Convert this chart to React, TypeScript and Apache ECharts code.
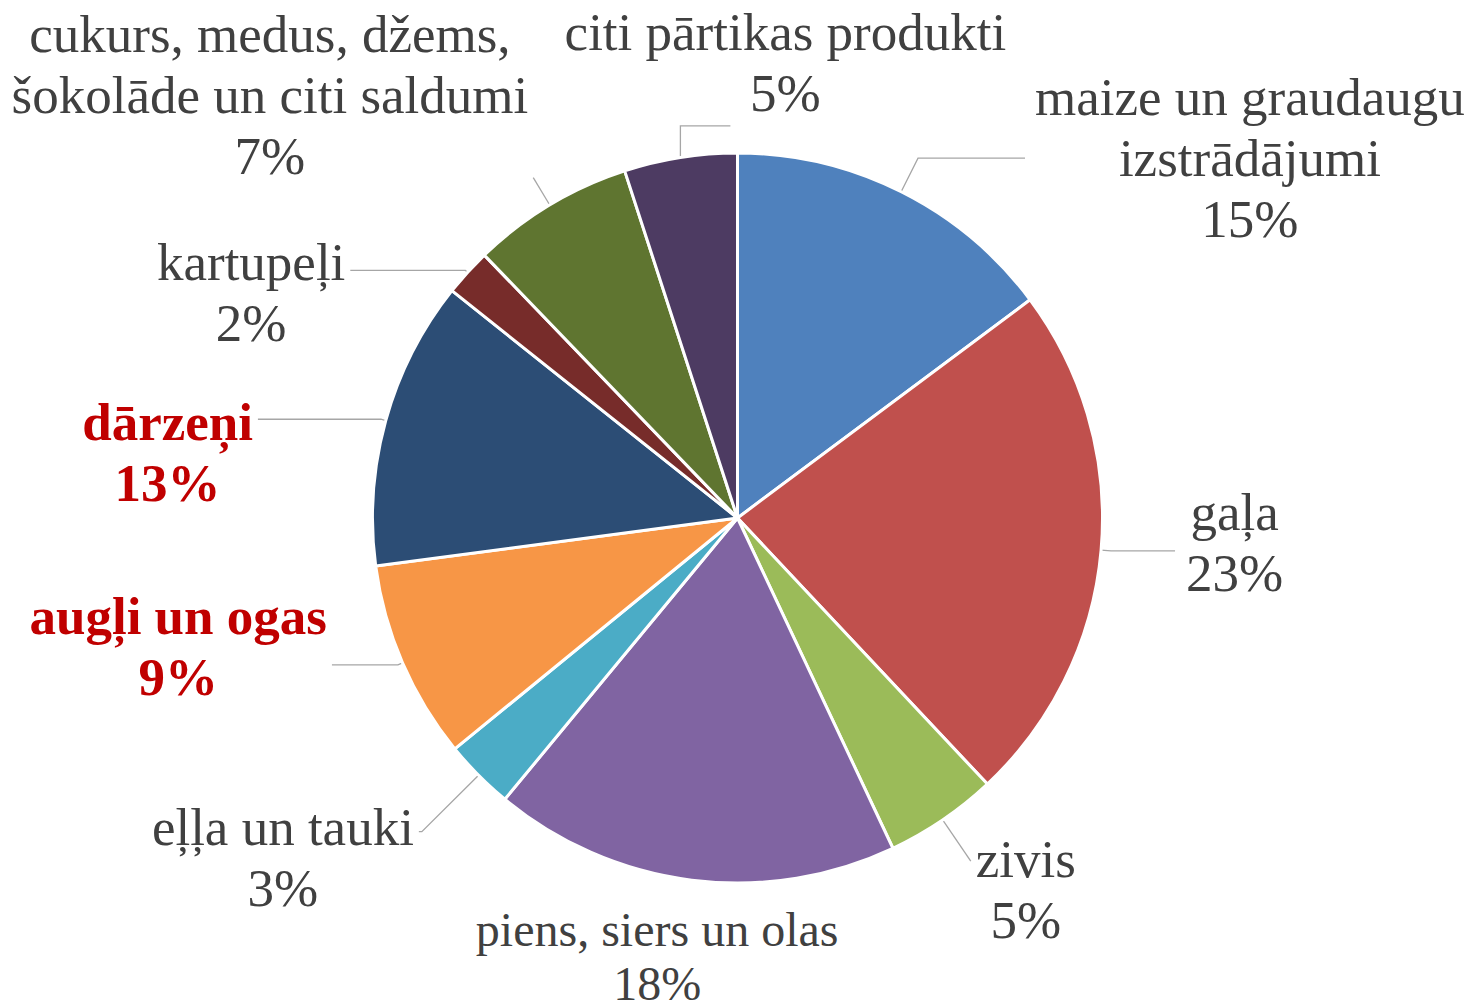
import React, { useEffect, useRef } from 'react';
import * as echarts from 'echarts';

// ---- data ----
const CATEGORIES = [
  'maize un graudaugu\nizstrādājumi',
  'gaļa',
  'zivis',
  'piens, siers un olas',
  'eļļa un tauki',
  'augļi un ogas',
  'dārzeņi',
  'kartupeļi',
  'cukurs, medus, džems,\nšokolāde un citi saldumi',
  'citi pārtikas produkti',
];
const VALUES = [14.8, 23.2, 5.0, 18.0, 3.1, 8.8, 12.8, 2.1, 7.2, 5.0];
const HIGHLIGHTED = ['dārzeņi', 'augļi un ogas'];

// ---- styles / layout ----
const COLORS = [
  '#4F81BD', '#C0504D', '#9BBB59', '#8064A2', '#4BACC6',
  '#F79646', '#2C4D75', '#772C2A', '#5F7530', '#4D3B62',
];
const LABEL_PLACEMENT: any[] = [
  { length: 37.6, length2: 107, padding: [0, 0, 0, 5] },
  { length: 10, length2: 64, padding: [0, 0, 17, 6] },
  { length: 50, length2: 0, padding: [57, 0, 0, 0] },
  { length: 76.5, length2: 20, padding: [0, 0, 0, 0], align: 'center', hideLine: true, small: true },
  { length: 80, length2: 3, padding: [51, 0, 0, 0] },
  { length: 5, length2: 66, padding: [0, 0, 36, 0] },
  { length: 5, length2: 123, padding: [66, 0, 0, 0] },
  { length: 3, length2: 115, padding: [45, 0, 0, 0] },
  { length: 32, length2: 0, padding: [0, 0, 165, 0] },
  { length: 32, length2: -55, padding: [0, 0, 126, 120], align: 'center' },
];

const FONT = { fontFamily: 'Liberation Serif', fontSize: 53, lineHeight: 61 };
const FONT_SMALL = { fontFamily: 'Liberation Serif', fontSize: 48, lineHeight: 54 };

export default function App() {
  const ref = useRef<HTMLDivElement>(null);
  useEffect(() => {
    if (!ref.current) return;
    const chart = echarts.init(ref.current, undefined, { renderer: 'svg' });
    const data = CATEGORIES.map((name, i) => {
      const pl = LABEL_PLACEMENT[i];
      return {
        name,
        value: VALUES[i],
        itemStyle: { color: COLORS[i] },
        label: { padding: pl.padding },
        labelLine: {
          length: pl.length,
          length2: pl.length2,
          lineStyle: pl.hideLine ? { opacity: 0 } : undefined,
        },
      };
    });
    chart.setOption({
      animation: false,
      backgroundColor: '#ffffff',
      series: [
        {
          type: 'pie',
          center: [737.5, 518],
          radius: [0, 365],
          startAngle: 90,
          clockwise: true,
          avoidLabelOverlap: false,
          itemStyle: { borderColor: '#ffffff', borderWidth: 3 },
          label: {
            show: true,
            position: 'outside',
            distanceToLabelLine: 5,
            formatter: (p: any) => {
              const pl = LABEL_PLACEMENT[p.dataIndex];
              const key = HIGHLIGHTED.includes(p.name) ? 'h' : pl && pl.small ? 's' : 'n';
              const lines = String(p.name).split('\n');
              lines.push(Math.round(p.percent) + '%');
              return lines.map((l) => `{${key}|${l}}`).join('\n');
            },
            rich: {
              n: { ...FONT, color: '#404040', align: 'center' },
              s: { ...FONT_SMALL, color: '#404040', align: 'center' },
              h: { ...FONT, color: '#C00000', fontWeight: 'bold', align: 'center' },
            },
          },
          labelLine: {
            show: true,
            smooth: false,
            lineStyle: { color: '#A6A6A6', width: 1.3 },
          },
          labelLayout: (params: any) => {
            const pl = LABEL_PLACEMENT[params.dataIndex];
            return pl && pl.align ? { align: pl.align } : {};
          },
          emphasis: { disabled: true },
          data,
        },
      ],
    });
    return () => chart.dispose();
  }, []);
  return (
    <div
      ref={ref}
      style={{ position: 'fixed', left: 0, top: 0, width: 1476, height: 1002 }}
    />
  );
}
